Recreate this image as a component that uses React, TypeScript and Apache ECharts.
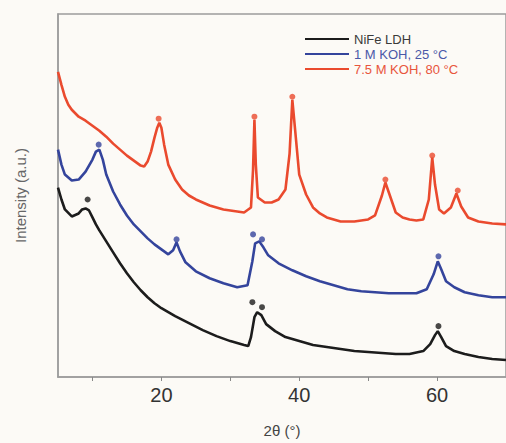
import React, { useEffect, useRef } from "react";
import * as echarts from "echarts";

// 2θ (degrees) and intensity (a.u.)
const redSeries: [number, number][] = [
  [5.0, 306], [5.5, 293], [6, 281], [6.5, 273], [7, 268], [8, 261], [9, 257], [10, 252],
  [11, 247], [12, 241], [13, 234], [14, 228], [15, 222], [16, 217], [17, 212], [17.5, 211],
  [18, 216], [18.5, 226], [19, 240], [19.4, 250], [19.7, 255], [20.0, 250], [20.4, 233],
  [21, 213], [22, 198], [23, 188], [24, 182], [25, 178], [26, 175], [27, 172], [28, 170],
  [29, 168], [30, 167], [31, 166], [32, 165], [33, 170], [33.3, 208], [33.5, 258], [33.7, 213],
  [34, 180], [35, 175], [36, 175], [37, 178], [38, 188], [38.6, 224], [39.0, 278], [39.4, 248],
  [40, 203], [41, 183], [42, 170], [43, 164], [44, 160], [45, 158], [46, 156], [47, 156],
  [48, 156], [49, 157], [50, 158], [51, 162], [52, 182], [52.5, 195], [53, 185], [54, 165],
  [55, 160], [56, 158], [57, 157], [58, 158], [58.8, 178], [59.3, 220], [59.7, 193],
  [60.3, 168], [61, 164], [62, 170], [62.8, 184], [63.5, 171], [64.5, 160], [66, 156],
  [68, 154], [70, 153],
];

const blueSeries: [number, number][] = [
  [5.0, 228], [5.5, 213], [6, 203], [7, 197], [8, 198], [9, 206], [10, 218], [10.5, 226],
  [11, 228], [11.5, 218], [12, 203], [13, 186], [14, 173], [15, 162], [16, 153], [17, 146],
  [18, 139], [19, 133], [20, 128], [21, 123], [21.7, 127], [22.2, 135], [22.7, 126],
  [23.5, 115], [25, 106], [27, 99], [29, 94], [31, 90], [32.5, 92], [33.2, 116], [33.6, 134],
  [34.2, 136], [34.8, 130], [35.5, 122], [37, 114], [39, 107], [41, 101], [43, 96], [45, 92],
  [47, 88], [49, 86], [51, 85], [53, 84], [55, 84], [57, 84], [58.5, 88], [59.5, 103],
  [60.1, 116], [60.6, 108], [61.3, 96], [62.5, 90], [64, 85], [66, 82], [68, 80], [70, 80],
];

const blackSeries: [number, number][] = [
  [5.0, 190], [5.5, 178], [6, 168], [7, 161], [8, 164], [8.5, 168], [9, 169], [9.5, 167],
  [10, 160], [10.5, 153], [11, 147], [12, 136], [13, 125], [14, 114], [15, 104], [16, 95],
  [17, 87], [18, 80], [19, 74], [20, 69], [22, 61], [24, 54], [26, 47], [28, 41], [30, 36],
  [32, 32], [32.6, 31], [33.0, 40], [33.5, 60], [33.9, 65], [34.5, 62], [35.2, 53], [36.5, 46],
  [38, 40], [40, 36], [42, 32], [44, 30], [46, 28], [48, 26], [50, 25], [52, 24], [54, 23],
  [56, 23], [58, 26], [59, 33], [59.7, 42], [60.1, 46], [60.6, 40], [61.3, 31], [62.5, 26],
  [64, 23], [66, 20], [68, 18], [70, 17],
];

// peak markers (dots)
const redDots: [number, number][] = [[19.6, 259], [33.5, 261], [39.0, 281], [52.5, 198], [59.3, 222], [63.0, 187]];
const blueDots: [number, number][] = [[10.9, 233], [22.2, 138], [33.3, 143], [34.6, 138], [60.2, 121]];
const blackDots: [number, number][] = [[9.3, 178], [33.2, 75], [34.6, 70], [60.2, 51]];

const seriesNames = ["NiFe LDH", "1 M KOH, 25 °C", "7.5 M KOH, 80 °C"];
const seriesColors = ["#1c1c1c", "#34449c", "#ea4a2e"];
const legendTextColors = ["#3a3a3a", "#4a58a8", "#e8553c"];

const majorTicks = [20, 40, 60];
const allTicks = [10, 20, 30, 40, 50, 60];

const FONT = "'Liberation Sans', Arial, Helvetica, sans-serif";

export default function App() {
  const ref = useRef<HTMLDivElement>(null);
  useEffect(() => {
    if (!ref.current) return;
    const chart = echarts.init(ref.current, null, { renderer: "svg" });
    const lines = [blackSeries, blueSeries, redSeries];
    const dots = [blackDots, blueDots, redDots];
    chart.setOption({
      animation: false,
      backgroundColor: "#fcfaf6",
      textStyle: { fontFamily: FONT },
      grid: {
        left: 58,
        top: 14,
        right: -2,
        bottom: 65,
        show: true,
        borderColor: "#9c9c9c",
        borderWidth: 1.5,
        backgroundColor: "transparent",
      },
      legend: {
        orient: "vertical",
        left: 300,
        top: 27,
        itemWidth: 44,
        itemHeight: 2,
        itemGap: 1,
        icon: "rect",
        textStyle: { fontSize: 13, lineHeight: 14, fontFamily: FONT },
        data: seriesNames.map((n, i) => ({ name: n, textStyle: { color: legendTextColors[i] } })),
      },
      xAxis: {
        type: "value",
        min: 5,
        max: 70,
        name: "2θ (°)",
        nameLocation: "middle",
        nameGap: 46,
        nameTextStyle: { fontSize: 15, color: "#444", fontFamily: FONT },
        axisLine: { show: true, lineStyle: { color: "#9c9c9c", width: 1.5 } },
        axisTick: { show: true, customValues: allTicks, length: 4, lineStyle: { color: "#888" } },
        axisLabel: { customValues: majorTicks, fontSize: 20, color: "#333", margin: 8, fontFamily: FONT },
        splitLine: { show: false },
      },
      yAxis: {
        type: "value",
        min: 0,
        max: 364,
        name: "Intensity (a.u.)",
        nameLocation: "middle",
        nameGap: 30,
        nameTextStyle: { fontSize: 15, color: "#666", fontFamily: FONT },
        axisLine: { show: true, lineStyle: { color: "#9c9c9c", width: 1.5 } },
        axisTick: { show: false },
        axisLabel: { show: false },
        splitLine: { show: false },
      },
      series: [
        ...lines.map((d, i) => ({
          name: seriesNames[i],
          type: "line",
          data: d,
          showSymbol: false,
          smooth: false,
          lineStyle: { color: seriesColors[i], width: 2.6 },
          itemStyle: { color: seriesColors[i] },
          z: 2,
        })),
        ...dots.map((d, i) => ({
          name: seriesNames[i] + " peaks",
          type: "scatter",
          data: d,
          symbolSize: 6,
          itemStyle: { color: seriesColors[i] },
          z: 3,
        })),
      ],
    });
    return () => chart.dispose();
  }, []);
  return (
    <div
      ref={ref}
      style={{ position: "fixed", left: 0, top: 0, width: 506, height: 443 }}
    />
  );
}
